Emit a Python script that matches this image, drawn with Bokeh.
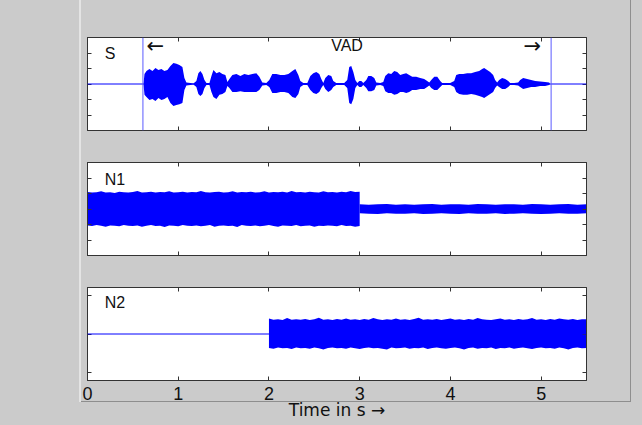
import numpy as np
from bokeh.plotting import figure
from bokeh.models import LinearAxis, FixedTicker, Label, Span
from bokeh.layouts import column
from bokeh.embed import file_html
from bokeh.resources import INLINE

# ---------------- data ----------------
x_ticks = [0, 1, 2, 3, 4, 5]
x_tick_labels = ["0", "1", "2", "3", "4", "5"]
x_label = "Time in s \u2192"
panel_names = ["S", "N1", "N2"]
vad_start = 0.611
vad_end = 5.11
vad_text = "VAD"

# speech signal S: envelope (time in s, upper / lower amplitude)
s_t = [0.617, 0.628, 0.650, 0.683, 0.716, 0.749, 0.782, 0.815, 0.848, 0.881,
       0.914, 0.947, 0.980, 1.013, 1.046, 1.068, 1.090, 1.134, 1.167, 1.200,
       1.222, 1.244, 1.267, 1.289, 1.311, 1.344, 1.366, 1.388, 1.421, 1.454,
       1.487, 1.520, 1.542, 1.564, 1.597, 1.641, 1.685, 1.729, 1.773, 1.817,
       1.861, 1.894, 1.927, 1.971, 2.004, 2.037, 2.081, 2.126, 2.170, 2.214,
       2.258, 2.291, 2.324, 2.346, 2.379, 2.423, 2.456, 2.489, 2.522, 2.555,
       2.577, 2.599, 2.621, 2.654, 2.687, 2.709, 2.742, 2.786, 2.830, 2.863,
       2.885, 2.907, 2.930, 2.952, 2.974, 2.996, 3.018, 3.040, 3.073, 3.095,
       3.128, 3.161, 3.183, 3.227, 3.260, 3.282, 3.315, 3.348, 3.381, 3.414,
       3.447, 3.480, 3.513, 3.546, 3.579, 3.623, 3.667, 3.711, 3.744, 3.767,
       3.789, 3.822, 3.855, 3.888, 3.910, 3.954, 3.998, 4.042, 4.064, 4.097,
       4.141, 4.185, 4.229, 4.273, 4.317, 4.350, 4.372, 4.405, 4.438, 4.471,
       4.493, 4.515, 4.537, 4.570, 4.604, 4.637, 4.659, 4.703, 4.747, 4.769,
       4.802, 4.846, 4.890, 4.934, 4.989, 5.044, 5.088, 5.099]
s_up = [0.00, 0.32, 0.42, 0.48, 0.42, 0.52, 0.45, 0.48, 0.42, 0.45,
        0.58, 0.68, 0.65, 0.61, 0.55, 0.19, 0.05, 0.03, 0.02, 0.10,
        0.35, 0.42, 0.32, 0.13, 0.03, 0.03, 0.26, 0.45, 0.35, 0.39,
        0.32, 0.29, 0.065, 0.16, 0.29, 0.32, 0.26, 0.32, 0.29, 0.32,
        0.35, 0.23, 0.05, 0.03, 0.13, 0.32, 0.32, 0.29, 0.29, 0.32,
        0.42, 0.48, 0.29, 0.10, 0.03, 0.03, 0.26, 0.35, 0.39, 0.32,
        0.16, 0.03, 0.19, 0.29, 0.26, 0.10, 0.03, 0.03, 0.03, 0.13,
        0.55, 0.58, 0.39, 0.13, 0.03, 0.10, 0.10, 0.03, 0.13, 0.26,
        0.26, 0.19, 0.05, 0.03, 0.065, 0.26, 0.35, 0.32, 0.42, 0.39,
        0.29, 0.32, 0.35, 0.29, 0.23, 0.23, 0.19, 0.16, 0.10, 0.05,
        0.13, 0.23, 0.23, 0.10, 0.03, 0.03, 0.03, 0.10, 0.29, 0.32,
        0.32, 0.35, 0.35, 0.39, 0.42, 0.48, 0.52, 0.45, 0.39, 0.29,
        0.13, 0.05, 0.13, 0.19, 0.16, 0.10, 0.03, 0.03, 0.05, 0.13,
        0.19, 0.16, 0.13, 0.10, 0.08, 0.065, 0.05, 0.00]
s_dn = [0.00, 0.35, 0.42, 0.52, 0.48, 0.55, 0.45, 0.52, 0.48, 0.42,
        0.61, 0.71, 0.68, 0.65, 0.61, 0.19, 0.05, 0.03, 0.02, 0.10,
        0.32, 0.39, 0.32, 0.13, 0.03, 0.03, 0.26, 0.42, 0.48, 0.35,
        0.32, 0.26, 0.065, 0.13, 0.26, 0.26, 0.23, 0.26, 0.26, 0.26,
        0.26, 0.19, 0.05, 0.03, 0.10, 0.29, 0.29, 0.26, 0.26, 0.29,
        0.42, 0.45, 0.32, 0.10, 0.03, 0.03, 0.19, 0.29, 0.32, 0.26,
        0.13, 0.03, 0.16, 0.26, 0.19, 0.10, 0.03, 0.03, 0.03, 0.13,
        0.61, 0.65, 0.48, 0.13, 0.03, 0.10, 0.10, 0.03, 0.13, 0.23,
        0.23, 0.19, 0.05, 0.03, 0.065, 0.23, 0.29, 0.29, 0.35, 0.32,
        0.26, 0.26, 0.29, 0.26, 0.19, 0.19, 0.16, 0.16, 0.10, 0.05,
        0.13, 0.19, 0.19, 0.10, 0.03, 0.03, 0.03, 0.10, 0.26, 0.32,
        0.35, 0.35, 0.32, 0.35, 0.39, 0.42, 0.45, 0.39, 0.32, 0.26,
        0.13, 0.05, 0.10, 0.16, 0.16, 0.10, 0.03, 0.03, 0.05, 0.10,
        0.16, 0.13, 0.10, 0.10, 0.065, 0.065, 0.03, 0.00]

# noise N1: loud part (0..3 s) and quiet part (3..5.5 s)
n1a_t = [0.00, 0.05, 0.10, 0.15, 0.20, 0.25, 0.30, 0.35, 0.40, 0.45,
         0.50, 0.55, 0.60, 0.65, 0.70, 0.75, 0.80, 0.85, 0.90, 0.95,
         1.00, 1.05, 1.10, 1.15, 1.20, 1.25, 1.30, 1.35, 1.40, 1.45,
         1.50, 1.55, 1.60, 1.65, 1.70, 1.75, 1.80, 1.85, 1.90, 1.95,
         2.00, 2.05, 2.10, 2.15, 2.20, 2.25, 2.30, 2.35, 2.40, 2.45,
         2.50, 2.55, 2.60, 2.65, 2.70, 2.75, 2.80, 2.85, 2.90, 2.95,
         3.00]
n1a_up = [0.55, 0.53, 0.54, 0.57, 0.53, 0.54, 0.52, 0.56, 0.54, 0.53,
          0.55, 0.58, 0.53, 0.54, 0.56, 0.53, 0.55, 0.54, 0.57, 0.53,
          0.54, 0.56, 0.53, 0.55, 0.54, 0.58, 0.54, 0.53, 0.55, 0.56,
          0.53, 0.54, 0.57, 0.53, 0.55, 0.54, 0.56, 0.53, 0.54, 0.57,
          0.53, 0.55, 0.54, 0.56, 0.53, 0.58, 0.54, 0.55, 0.53, 0.56,
          0.54, 0.53, 0.57, 0.54, 0.55, 0.53, 0.56, 0.54, 0.58, 0.55,
          0.56]
n1a_dn = [0.53, 0.55, 0.52, 0.54, 0.57, 0.53, 0.54, 0.56, 0.52, 0.54,
          0.55, 0.53, 0.57, 0.54, 0.52, 0.55, 0.54, 0.58, 0.53, 0.54,
          0.56, 0.52, 0.54, 0.55, 0.53, 0.56, 0.54, 0.52, 0.57, 0.54,
          0.53, 0.55, 0.54, 0.58, 0.52, 0.54, 0.55, 0.53, 0.56, 0.54,
          0.52, 0.55, 0.57, 0.53, 0.54, 0.55, 0.52, 0.56, 0.54, 0.53,
          0.57, 0.54, 0.55, 0.53, 0.54, 0.56, 0.52, 0.55, 0.54, 0.57,
          0.55]
n1b_t = [3.0, 3.1, 3.2, 3.3, 3.4, 3.5, 3.6, 3.7, 3.8, 3.9,
         4.0, 4.1, 4.2, 4.3, 4.4, 4.5, 4.6, 4.7, 4.8, 4.9,
         5.0, 5.1, 5.2, 5.3, 5.4, 5.5]
n1b_up = [0.15, 0.14, 0.15, 0.16, 0.14, 0.15, 0.14, 0.15, 0.16, 0.14,
          0.15, 0.15, 0.14, 0.16, 0.15, 0.14, 0.15, 0.15, 0.14, 0.16,
          0.15, 0.14, 0.15, 0.16, 0.14, 0.15]
n1b_dn = [0.14, 0.15, 0.16, 0.14, 0.15, 0.15, 0.14, 0.16, 0.15, 0.14,
          0.15, 0.16, 0.14, 0.15, 0.15, 0.14, 0.16, 0.15, 0.14, 0.15,
          0.16, 0.15, 0.14, 0.15, 0.15, 0.14]

# noise N2: silent until 2 s, then noise
n2_t = [2.00, 2.05, 2.10, 2.15, 2.20, 2.25, 2.30, 2.35, 2.40, 2.45,
        2.50, 2.55, 2.60, 2.65, 2.70, 2.75, 2.80, 2.85, 2.90, 2.95,
        3.00, 3.05, 3.10, 3.15, 3.20, 3.25, 3.30, 3.35, 3.40, 3.45,
        3.50, 3.55, 3.60, 3.65, 3.70, 3.75, 3.80, 3.85, 3.90, 3.95,
        4.00, 4.05, 4.10, 4.15, 4.20, 4.25, 4.30, 4.35, 4.40, 4.45,
        4.50, 4.55, 4.60, 4.65, 4.70, 4.75, 4.80, 4.85, 4.90, 4.95,
        5.00, 5.05, 5.10, 5.15, 5.20, 5.25, 5.30, 5.35, 5.40, 5.45,
        5.50]
n2_up = [0.40, 0.37, 0.38, 0.36, 0.41, 0.37, 0.38, 0.37, 0.39, 0.36,
         0.38, 0.42, 0.37, 0.38, 0.36, 0.39, 0.37, 0.40, 0.37, 0.38,
         0.36, 0.39, 0.37, 0.41, 0.38, 0.36, 0.38, 0.37, 0.40, 0.37,
         0.38, 0.36, 0.39, 0.42, 0.37, 0.38, 0.37, 0.39, 0.36, 0.38,
         0.40, 0.37, 0.38, 0.36, 0.39, 0.37, 0.41, 0.38, 0.37, 0.36,
         0.38, 0.40, 0.37, 0.38, 0.36, 0.39, 0.37, 0.38, 0.41, 0.37,
         0.38, 0.36, 0.39, 0.37, 0.40, 0.38, 0.37, 0.39, 0.36, 0.38,
         0.38]
n2_dn = [0.36, 0.38, 0.35, 0.37, 0.36, 0.39, 0.35, 0.37, 0.36, 0.38,
         0.35, 0.37, 0.40, 0.36, 0.35, 0.37, 0.36, 0.38, 0.35, 0.37,
         0.39, 0.36, 0.35, 0.37, 0.36, 0.38, 0.40, 0.35, 0.37, 0.36,
         0.35, 0.38, 0.36, 0.37, 0.35, 0.39, 0.36, 0.35, 0.37, 0.38,
         0.36, 0.35, 0.37, 0.40, 0.36, 0.35, 0.38, 0.36, 0.37, 0.35,
         0.39, 0.36, 0.37, 0.35, 0.38, 0.36, 0.35, 0.37, 0.39, 0.36,
         0.35, 0.37, 0.36, 0.38, 0.35, 0.37, 0.40, 0.36, 0.35, 0.37,
         0.36]

# ---------------- styling ----------------
BG = "#cbcbcb"
FRAME = "#333333"
BLUE = "#0000ff"
VLINE = "#5a5aff"
FONT = "Liberation Sans"
TXT = "#111111"
W = 642
FRAME_W = 499
LEFT = 87
RIGHT = W - LEFT - FRAME_W


def style_axis(ax, ticks, labeled=False):
    ax.ticker = FixedTicker(ticks=ticks)
    ax.axis_line_color = FRAME
    ax.major_tick_line_color = FRAME
    ax.major_tick_in = 4
    ax.major_tick_out = 0
    ax.minor_tick_line_color = None
    ax.minor_tick_in = 0
    ax.minor_tick_out = 0
    if labeled:
        ax.major_label_text_font = FONT
        ax.major_label_text_font_size = "18px"
        ax.major_label_text_color = TXT
        ax.major_label_standoff = 6
        ax.major_label_overrides = {t: s for t, s in zip(x_ticks, x_tick_labels)}
        ax.axis_label = x_label
        ax.axis_label_text_font = "DejaVu Sans"
        ax.axis_label_text_font_size = "17px"
        ax.axis_label_text_font_style = "normal"
        ax.axis_label_text_color = TXT
        ax.axis_label_standoff = -3
    else:
        ax.major_label_text_color = None
        ax.major_label_text_font_size = "0px"
        ax.major_label_standoff = 0


def make_panel(ylim, yticks, height, top, bottom, labeled):
    p = figure(width=W, height=height, x_range=(0, 5.5), y_range=ylim,
               output_backend="svg", toolbar_location=None,
               x_axis_location=None, y_axis_location=None,
               min_border_left=LEFT, min_border_right=RIGHT,
               min_border_top=top, min_border_bottom=bottom,
               background_fill_color="white",
               border_fill_color=BG, border_fill_alpha=0.0,
               outline_line_color=FRAME)
    p.grid.visible = False
    for loc in ("below", "above"):
        ax = LinearAxis()
        style_axis(ax, x_ticks, labeled and loc == "below")
        p.add_layout(ax, loc)
    for loc in ("left", "right"):
        ax = LinearAxis()
        style_axis(ax, yticks)
        p.add_layout(ax, loc)
    return p


# Panel S
p1 = make_panel((-1.5, 1.5), [-1, -0.5, 0, 0.5, 1], 146, 37, 16, False)
p1.add_layout(Span(location=0, dimension="width", line_color=BLUE, line_width=1))
p1.varea(x=np.array(s_t), y1=np.array(s_up), y2=-np.array(s_dn), fill_color=BLUE)
p1.add_layout(Span(location=vad_start, dimension="height", line_color=VLINE, line_width=1))
p1.add_layout(Span(location=vad_end, dimension="height", line_color=VLINE, line_width=1))
p1.add_layout(Label(x=0.19, y=0.98, text=panel_names[0], text_font=FONT,
                    text_font_size="16px", text_baseline="middle", text_color=TXT))
p1.add_layout(Label(x=(vad_start + vad_end) / 2, y=1.24, text=vad_text, text_font=FONT,
                    text_font_size="16px", text_baseline="middle", text_align="center",
                    text_color=TXT))
p1.add_layout(Label(x=vad_start + 0.04, y=1.22, text="\u2190", text_font="DejaVu Sans",
                    text_font_size="21px", text_baseline="middle", text_align="left",
                    text_color=TXT))
p1.add_layout(Label(x=vad_end - 0.11, y=1.22, text="\u2192", text_font="DejaVu Sans",
                    text_font_size="21px", text_baseline="middle", text_align="right",
                    text_color=TXT))

# Panel N1
p2 = make_panel((-1.5, 1.5), [-1, -0.5, 0, 0.5, 1], 125, 16, 16, False)
p2.varea(x=np.array(n1a_t), y1=np.array(n1a_up), y2=-np.array(n1a_dn), fill_color=BLUE)
p2.varea(x=np.array(n1b_t), y1=np.array(n1b_up), y2=-np.array(n1b_dn), fill_color=BLUE)
p2.add_layout(Label(x=0.19, y=0.95, text=panel_names[1], text_font=FONT,
                    text_font_size="16px", text_baseline="middle", text_color=TXT))

# Panel N2
p3 = make_panel((-1.2, 1.2), [-1, 0, 1], 154, 16, 45, True)
p3.add_layout(Span(location=0, dimension="width", line_color=BLUE, line_width=1))
p3.varea(x=np.array(n2_t), y1=np.array(n2_up), y2=-np.array(n2_dn), fill_color=BLUE)
p3.add_layout(Label(x=0.19, y=0.82, text=panel_names[2], text_font=FONT,
                    text_font_size="16px", text_baseline="middle", text_color=TXT))

lines_css = ("linear-gradient(#e4e4e4,#e4e4e4) 79px 0px / 2px 402px no-repeat, "
             "linear-gradient(#8e8e8e,#8e8e8e) 79px 401px / 552px 1px no-repeat, "
             "linear-gradient(#8e8e8e,#8e8e8e) 630px 0px / 1px 402px no-repeat, "
             + BG)
p = column(p1, p2, p3, styles={"background": lines_css})

html = file_html(p, INLINE, title="VAD")
html = html.replace("</head>",
                    "<style>html, body { margin: 0; padding: 0; overflow: hidden; "
                    "background: %s; }</style></head>" % BG, 1)
open("out.html", "w").write(html)
